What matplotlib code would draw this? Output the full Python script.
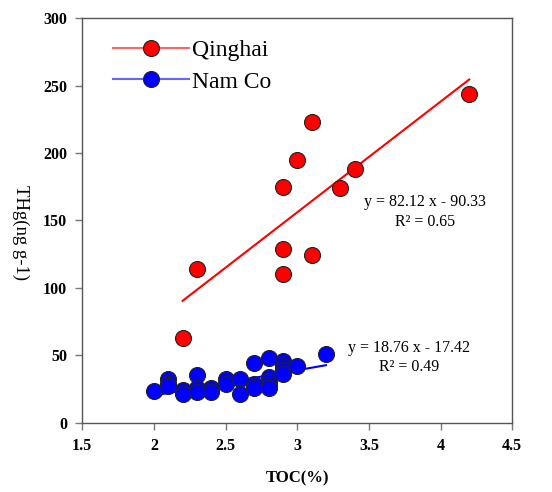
import matplotlib
matplotlib.use('Agg')
import matplotlib.pyplot as plt
from matplotlib.lines import Line2D
import numpy as np

#%% Datos

toc_qh = [4.2, 3.1, 3.0, 2.9, 3.3, 3.4, 2.9, 2.3, 2.9, 3.1, 2.2]
thg_qh = [244, 223, 195, 175, 174, 188, 129, 114, 110, 124, 63]

toc_nc = [2.0, 2.1, 2.1, 2.1, 2.2, 2.2, 2.3, 2.3, 2.3, 2.4, 2.4, 2.5, 2.5,
          2.6, 2.6, 2.7, 2.7, 2.7, 2.8, 2.8, 2.8, 2.8, 2.8, 2.9, 2.9, 2.9,
          2.9, 3.0, 3.2]
thg_nc = [23.5, 32, 29, 27, 24, 21, 35, 26, 23, 26, 23, 32, 29,
          32, 21, 44, 29, 26, 48, 34, 31, 28, 26, 46, 42, 39,
          36, 42, 51]

fit_qh = [82.12, -90.33]   # pendiente, ordenada
fit_nc = [18.76, -17.42]
r2_qh = 0.65
r2_nc = 0.49

#%% Figura

plt.rcParams['font.family'] = ['Liberation Serif', 'DejaVu Serif']

fig = plt.figure(figsize=(5.52, 4.92), dpi=100)
ax = fig.add_axes([0.149, 0.141, 0.779, 0.822])

ms = 11.5

xq = np.array([min(toc_qh), max(toc_qh)])
ax.plot(xq, fit_qh[0]*xq + fit_qh[1], color='#ff0000', lw=1.5, zorder=2)
xn = np.array([min(toc_nc), max(toc_nc)])
ax.plot(xn, fit_nc[0]*xn + fit_nc[1], color='#0000ff', lw=1.5, zorder=2)

ax.plot(toc_qh, thg_qh, linestyle='None', marker='o', ms=ms, mfc='#ff0000',
        mec='#222222', mew=0.8, zorder=3)
ax.plot(toc_nc, thg_nc, linestyle='None', marker='o', ms=ms, mfc='#0000ff',
        mec='#222222', mew=0.8, zorder=3)

ax.text(3.894, 163.6, 'y = %.2f x - %.2f' % (fit_qh[0], -fit_qh[1]), ha='center', va='center', fontsize=11.5)
ax.text(3.894, 148.8, 'R² = %.2f' % r2_qh, ha='center', va='center', fontsize=11.5)
ax.text(3.78, 55.2, 'y = %.2f x - %.2f' % (fit_nc[0], -fit_nc[1]), ha='center', va='center', fontsize=11.5)
ax.text(3.78, 41, 'R² = %.2f' % r2_nc, ha='center', va='center', fontsize=11.5)

handles = [Line2D([], [], color='#ff6666', lw=1.5, marker='o', ms=ms, mfc='#ff0000', mec='#222222', mew=0.8),
           Line2D([], [], color='#6666ff', lw=1.5, marker='o', ms=ms, mfc='#0000ff', mec='#222222', mew=0.8)]
ax.legend(handles, ['Qinghai', 'Nam Co'], loc='upper left', bbox_to_anchor=(0.05, 0.97),
          frameon=False, fontsize=17, handlelength=3.2, handletextpad=0.15,
          labelspacing=0.42, borderaxespad=0)

ax.set_xlim(1.5, 4.5)
ax.set_ylim(0, 300)
ax.set_xticks(np.arange(1.5, 4.51, 0.5))
ax.set_xticklabels(['1.5', '2', '2.5', '3', '3.5', '4', '4.5'])
ax.set_yticks(np.arange(0, 301, 50))

for s in ax.spines.values():
    s.set_color('#555555')
    s.set_linewidth(1.0)
ax.tick_params(direction='out', length=5, width=1, color='#777777', labelsize=11.5, pad=6)
for lb in ax.get_xticklabels() + ax.get_yticklabels():
    lb.set_fontweight('bold')

ax.set_xlabel('TOC(%)', fontsize=12, fontweight='bold', labelpad=12)
ax.set_ylabel('THg(ng g-1)', fontsize=13.5, rotation=270, va='center')
ax.yaxis.set_label_coords(-0.144, 0.471)

plt.savefig('out.png', dpi=100)
